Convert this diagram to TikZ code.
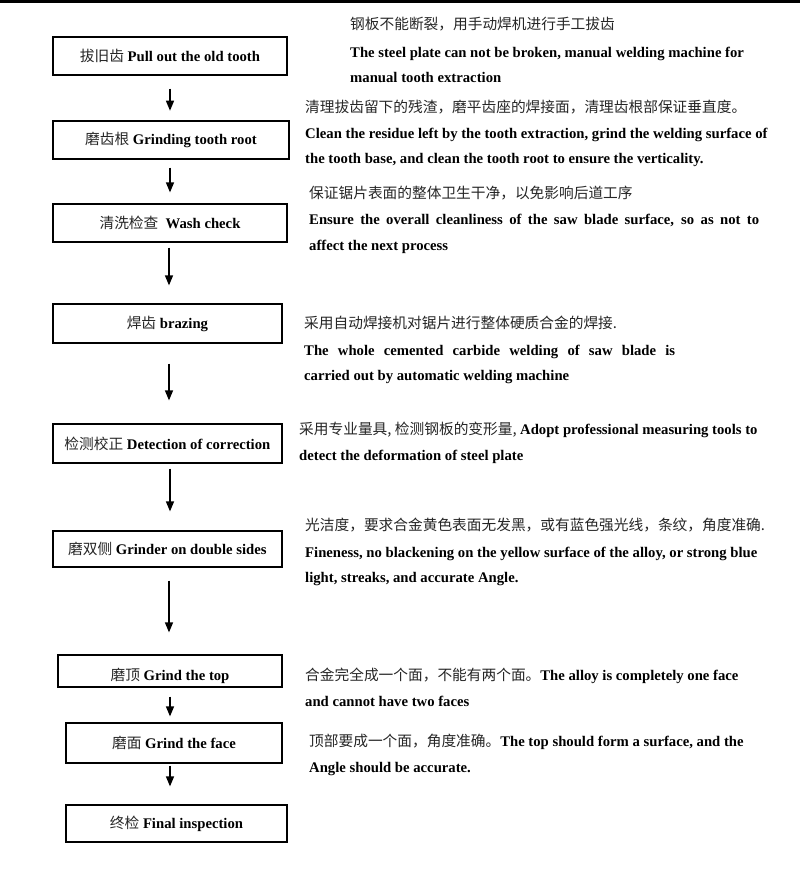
\documentclass[tikz,border=0pt]{standalone}
\usepackage{fontspec}
\setmainfont{Liberation Serif}
\newfontfamily\cjk{Noto Sans CJK SC}
\usetikzlibrary{arrows.meta,calc}
\newcommand{\zh}[1]{{\cjk\color{black!85}#1}}
\newcommand{\en}[1]{{\bfseries #1}}
\newcommand{\hcomma}{,\hspace{3.5pt}}
\tikzset{
  stepbox/.style={draw, line width=1.2pt, inner sep=0pt, align=center,
    font=\fontsize{14.7}{16}\selectfont},
  desc/.style={anchor=base west, inner sep=0pt, font=\fontsize{14.7}{16}\selectfont},
  arr/.style={line width=1.3pt, -{Triangle[width=8pt,length=10pt]}}
}
\begin{document}
\begin{tikzpicture}[x=1pt,y=-1pt]
\useasboundingbox (0,0) rectangle (800,894);
\fill[white] (0,0) rectangle (800,894);
\draw[line width=3pt] (0,1.5) -- (800,1.5);

% boxes
\node[stepbox, minimum width=234pt, minimum height=38pt] (b1) at (170,56) {\zh{拔旧齿} \en{Pull out the old tooth}};
\node[stepbox, minimum width=236pt, minimum height=38pt] (b2) at (171,140) {\zh{磨齿根} \en{Grinding tooth root}};
\node[stepbox, minimum width=234pt, minimum height=38pt] (b3) at (170,223) {\zh{清洗检查}\ \ \en{Wash check}};
\node[stepbox, minimum width=229pt, minimum height=39pt] (b4) at (167.4,323.5) {\zh{焊齿} \en{brazing}};
\node[stepbox, minimum width=229pt, minimum height=39pt] (b5) at (167.4,443.5) {\zh{检测校正} \en{Detection of correction}};
\node[stepbox, minimum width=229pt, minimum height=36pt] (b6) at (167.4,549) {\zh{磨双侧} \en{Grinder on double sides}};
\node[stepbox, minimum width=224pt, minimum height=32pt] (b7) at (170,671) {\raisebox{-9pt}[0pt][0pt]{\zh{磨顶} \en{Grind the top}}};
\node[stepbox, minimum width=216pt, minimum height=40pt] (b8) at (174,743) {\zh{磨面} \en{Grind the face}};
\node[stepbox, minimum width=221pt, minimum height=37pt] (b9) at (176.5,823.5) {\zh{终检} \en{Final inspection}};

% arrows
\draw[arr] ($(b1.south)+(0,13)$) -- ($(b1.south |- b2.north)+(0,-9.7)$);
\draw[arr] ($(b2.south)+(-1,8)$) -- ($(b2.south |- b3.north)+(-1,-11)$);
\draw[arr] ($(b3.south)+(-1,5)$) -- ($(b3.south |- b4.north)+(-1,-18)$);
\draw[arr] ($(b4.south)+(1.6,20)$) -- ($(b4.south |- b5.north)+(1.6,-23)$);
\draw[arr] ($(b5.south)+(2.6,5)$) -- ($(b5.south |- b6.north)+(2.6,-19)$);
\draw[arr] ($(b6.south)+(1.6,13)$) -- ($(b6.south |- b7.north)+(1.6,-22)$);
\draw[arr] ($(b7.south)+(0,9)$) -- ($(b7.south |- b8.north)+(0,-6)$);
\draw[arr] ($(b8.south)+(-4,2)$) -- ($(b8.south |- b9.north)+(-4,-18)$);

% descriptions
\node[desc] (d1a) at (350,29) {\zh{钢板不能断裂，用手动焊机进行手工拔齿}};
\node[desc] (d1b) at (350,57) {\en{The steel plate can not be broken, manual welding machine for}};
\node[desc] (d1c) at (350,82) {\en{manual tooth extraction}};

\node[desc] (d2a) at (305,112) {\zh{清理拔齿留下的残渣，磨平齿座的焊接面，清理齿根部保证垂直度。}};
\node[desc] (d2b) at (305,138) {\en{Clean the residue left by the tooth extraction, grind the welding surface of}};
\node[desc] (d2c) at (305,163) {\en{the tooth base, and clean the tooth root to ensure the verticality.}};

\node[desc] (d3a) at (309,198) {\zh{保证锯片表面的整体卫生干净，以免影响后道工序}};
\node[desc] (d3b) at (309,224) {\makebox[450pt][s]{\en{Ensure the overall cleanliness of the saw blade surface, so as not to}}};
\node[desc] (d3c) at (309,250) {\en{affect the next process}};

\node[desc] (d4a) at (304,328) {\zh{采用自动焊接机对锯片进行整体硬质合金的焊接.}};
\node[desc] (d4b) at (304,355) {\makebox[371pt][s]{\en{The whole cemented carbide welding of saw blade is}}};
\node[desc] (d4c) at (304,380) {\en{carried out by automatic welding machine}};

\node[desc] (d5a) at (299,434) {\zh{采用专业量具\hcomma 检测钢板的变形量\hcomma}\en{Adopt professional measuring tools to}};
\node[desc] (d5b) at (299,460) {\en{detect the deformation of steel plate}};

\node[desc] (d6a) at (305,530) {\zh{光洁度，要求合金黄色表面无发黑，或有蓝色强光线，条纹，角度准确.}};
\node[desc] (d6b) at (305,557) {\en{Fineness, no blackening on the yellow surface of the alloy, or strong blue}};
\node[desc] (d6c) at (305,582) {\en{light, streaks, and accurate Angle.}};

\node[desc] (d7a) at (305,680) {\zh{合金完全成一个面，不能有两个面。}\en{The alloy is completely one face}};
\node[desc] (d7b) at (305,706) {\en{and cannot have two faces}};

\node[desc] (d8a) at (309,746) {\zh{顶部要成一个面，角度准确。}\en{The top should form a surface, and the}};
\node[desc] (d8b) at (309,772) {\en{Angle should be accurate.}};
\end{tikzpicture}
\end{document}
